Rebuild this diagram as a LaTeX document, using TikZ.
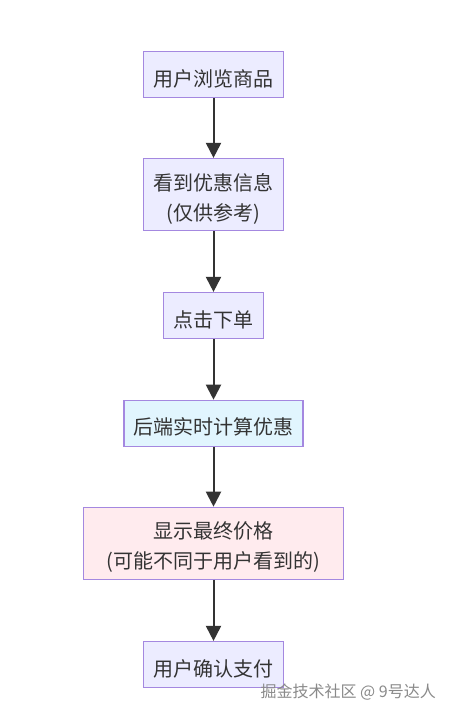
\documentclass[tikz,border=0pt]{standalone}
\usepackage{fontspec}
\setmainfont{Noto Sans CJK SC}
\usetikzlibrary{arrows.meta}
\definecolor{mfill}{HTML}{ECECFF}
\definecolor{mborder}{HTML}{A488E0}
\definecolor{bfill}{HTML}{E1F5FE}
\definecolor{pfill}{HTML}{FFEBEE}
\definecolor{edge}{HTML}{333333}
\definecolor{txt}{HTML}{333333}
\definecolor{wmgray}{HTML}{8A8A8A}
\tikzset{
  box/.style={draw=mborder, line width=1.2pt, fill=mfill, inner sep=0pt},
  boxtext/.style={text=txt, font=\fontsize{20}{30}\selectfont, align=center, inner sep=0pt, yshift=-4pt},
  flow/.style={draw=edge, line width=2pt, -{Triangle[length=15pt,width=15pt]}},
}
\begin{document}
\begin{tikzpicture}[x=1pt,y=-1pt]
\useasboundingbox (0,0) rectangle (452,717);
\fill[white] (0,0) rectangle (452,717);
\node[box, minimum width=140pt, minimum height=46pt] (n1) at (213.5,74.5) {};
\node[box, minimum width=140pt, minimum height=72pt] (n2) at (213.5,194.5) {};
\node[box, minimum width=100pt, minimum height=46pt] (n3) at (213.5,315.5) {};
\node[box, fill=bfill, minimum width=179pt, minimum height=46pt] (n4) at (213.5,423.3) {};
\node[box, fill=pfill, minimum width=259.5pt, minimum height=72pt] (n5) at (213.5,543.3) {};
\node[box, minimum width=140pt, minimum height=46pt] (n6) at (213.5,664.5) {};
\node[boxtext] (t1) at (n1.center) {用户浏览商品};
\node[boxtext] (t2) at (n2.center) {看到优惠信息\\(仅供参考)};
\node[boxtext] (t3) at (n3.center) {点击下单};
\node[boxtext] (t4) at (n4.center) {后端实时计算优惠};
\node[boxtext] (t5) at (n5.center) {显示最终价格\\(可能不同于用户看到的)};
\node[boxtext] (t6) at (n6.center) {用户确认支付};
\draw[flow] (n1) -- (n2);
\draw[flow] (n2) -- (n3);
\draw[flow] (n3) -- (n4);
\draw[flow] (n4) -- (n5);
\draw[flow] (n5) -- (n6);
\node[text=wmgray, font=\fontsize{16}{18}\selectfont, anchor=east, inner sep=0pt] (wm) at (436,692.5) {掘金技术社区 @ 9号达人};
\end{tikzpicture}
\end{document}
